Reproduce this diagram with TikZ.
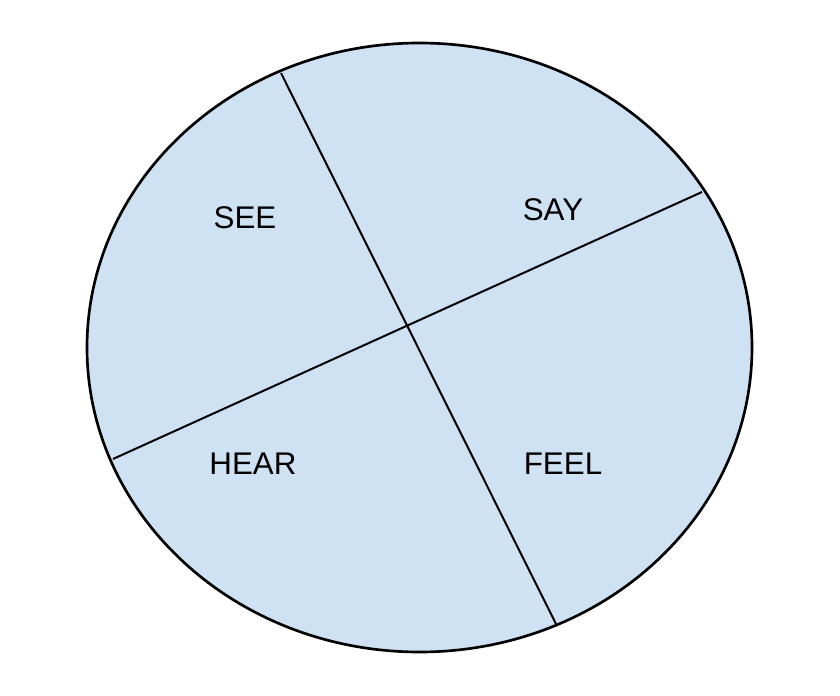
\documentclass[tikz,border=0pt]{standalone}
\usepackage{fontspec}
\setmainfont{Liberation Sans}
\definecolor{paleblue}{HTML}{CFE2F3}
\begin{document}
\begin{tikzpicture}[x=0.75pt,y=-0.75pt,line width=2pt,
  word/.style={font=\fontsize{23.5}{27}\selectfont}]
  \useasboundingbox[fill=white] (0,0) rectangle (840,696);

  % 圆盘
  \draw[fill=paleblue] (419.5,347.5) ellipse [x radius=332.5,y radius=304.5];

  % 两条分割线
  \coordinate (top) at (281,73);
  \coordinate (bottom) at (557,626);
  \coordinate (left) at (113,459);
  \coordinate (right) at (702,192);
  \draw[line width=1.5pt] (top) -- (bottom);
  \draw[line width=1.5pt] (left) -- (right);

  % 四个象限
  \node[word] (see) at (245,217.5) {SEE};
  \node[word] (say) at (553,210) {SAY};
  \node[word] (hear) at (253,464) {HEAR};
  \node[word] (feel) at (563,464) {FEEL};
\end{tikzpicture}
\end{document}
